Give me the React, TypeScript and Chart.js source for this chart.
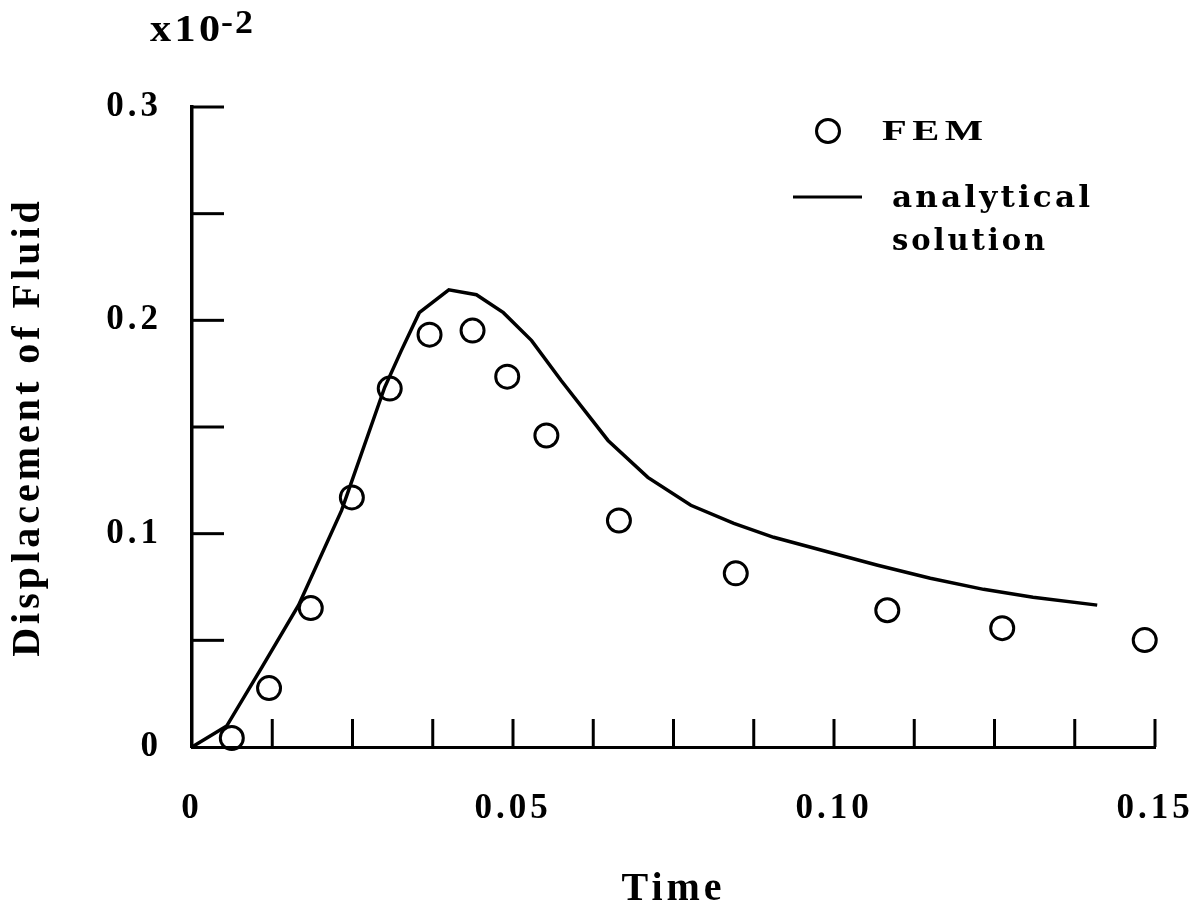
import React, { useEffect, useRef } from 'react';
import { Chart, registerables } from 'chart.js';

Chart.register(...registerables);

// FEM results (time, displacement x10^-2)
const femTime = [0.0062, 0.012, 0.0185, 0.0249, 0.0308, 0.037, 0.0437, 0.0491, 0.0552, 0.0665, 0.0847, 0.1083, 0.1262, 0.1484];
const femDisp = [0.0042, 0.0276, 0.0651, 0.117, 0.168, 0.1933, 0.1952, 0.1736, 0.146, 0.1062, 0.0814, 0.0641, 0.0557, 0.0501];

// analytical solution
const anaTime = [0, 0.0054, 0.0109, 0.0166, 0.0233, 0.03, 0.0326, 0.0354, 0.04, 0.0443, 0.0485, 0.0529, 0.0575, 0.0648, 0.071, 0.0777, 0.0844, 0.0906, 0.101, 0.1068, 0.115, 0.1233, 0.131, 0.141];
const anaDisp = [0, 0.0098, 0.0374, 0.0665, 0.1109, 0.1685, 0.1858, 0.2036, 0.2143, 0.212, 0.2036, 0.1905, 0.1718, 0.1437, 0.1264, 0.1133, 0.1048, 0.0983, 0.0899, 0.0852, 0.0791, 0.0739, 0.0702, 0.0665];

const xLabelValues = [0, 0.05, 0.1, 0.15];
const xTickLabels = ['0', '0.05', '0.10', '0.15'];
const yLabelValues = [0, 0.1, 0.2, 0.3];
const yTickLabels = ['0', '0.1', '0.2', '0.3'];
const xTitle = 'Time';
const yTitle = 'Displacement of Fluid';
const femLabel = 'FEM';
const anaLabel = ['analytical', 'solution'];
const unitNote = 'x10';
const unitExp = '-2';

function labelFor(v: number, values: number[], labels: string[]) {
  for (let i = 0; i < values.length; i++) {
    if (Math.abs(v - values[i]) < 1e-6) return labels[i];
  }
  return '';
}

function drawText(ctx: CanvasRenderingContext2D, text: string, x: number, y: number, font: string, spacing: number, width?: number) {
  ctx.save();
  ctx.font = font;
  ctx.fillStyle = '#000';
  ctx.textAlign = 'left';
  ctx.textBaseline = 'alphabetic';
  (ctx as any).letterSpacing = spacing + 'px';
  const w = ctx.measureText(text).width - spacing;
  const sx = width ? width / w : 1;
  ctx.translate(x, y);
  ctx.scale(sx, 1);
  ctx.fillText(text, 0, 0);
  ctx.restore();
}

const decorPlugin = {
  id: 'decor',
  beforeDraw(chart: any) {
    (chart.ctx as any).letterSpacing = '4px';
  },
  beforeDatasetsDraw(chart: any) {
    (chart.ctx as any).letterSpacing = '0px';
  },
  afterDraw(chart: any) {
    const ctx: CanvasRenderingContext2D = chart.ctx;
    const xs = chart.scales.x;
    const ys = chart.scales.y;
    const { left, bottom } = chart.chartArea;
    ctx.save();
    (ctx as any).letterSpacing = '0px';
    ctx.strokeStyle = '#000';
    ctx.lineWidth = 3;
    ctx.lineCap = 'butt';
    // inward tick marks
    xs.ticks.forEach((t: any) => {
      if (Math.abs(t.value) < 1e-9) return;
      const px = xs.getPixelForValue(t.value);
      ctx.beginPath();
      ctx.moveTo(px, bottom);
      ctx.lineTo(px, bottom - 28);
      ctx.stroke();
    });
    ys.ticks.forEach((t: any) => {
      if (Math.abs(t.value) < 1e-9) return;
      const py = ys.getPixelForValue(t.value);
      ctx.beginPath();
      ctx.moveTo(left, py);
      ctx.lineTo(left + 32, py);
      ctx.stroke();
    });
    // legend
    ctx.beginPath();
    ctx.arc(828, 131, 11.5, 0, Math.PI * 2);
    ctx.stroke();
    ctx.beginPath();
    ctx.moveTo(793, 197);
    ctx.lineTo(862, 197);
    ctx.stroke();
    ctx.restore();

    drawText(ctx, femLabel, 882, 140, 'bold 30px "Liberation Serif"', 4, 101);
    drawText(ctx, anaLabel[0], 892, 207, 'bold 30px "DejaVu Serif"', 3, 198);
    drawText(ctx, anaLabel[1], 892, 250, 'bold 30px "DejaVu Serif"', 3, 153);
    // unit note
    drawText(ctx, unitNote, 150, 41, 'bold 38px "Liberation Serif"', 3, 70);
    drawText(ctx, unitExp, 221, 33, 'bold 34px "Liberation Serif"', 2, 32);
  },
};

export default function App() {
  const ref = useRef<HTMLCanvasElement | null>(null);
  useEffect(() => {
    if (!ref.current) return;
    const tickFont = { family: 'Liberation Serif', size: 35, weight: 'bold' as const };
    const titleFont = { family: 'Liberation Serif', size: 40, weight: 'bold' as const };
    const chart = new Chart(ref.current, {
      type: 'scatter',
      data: {
        datasets: [
          {
            type: 'line',
            label: anaLabel.join(' '),
            data: anaTime.map((t, i) => ({ x: t, y: anaDisp[i] })),
            borderColor: '#000',
            borderWidth: 3.5,
            pointRadius: 0,
            tension: 0,
            fill: false,
            clip: false,
          } as any,
          {
            type: 'scatter',
            label: femLabel,
            data: femTime.map((t, i) => ({ x: t, y: femDisp[i] })),
            borderColor: '#000',
            backgroundColor: 'rgba(0,0,0,0)',
            pointRadius: 11.5,
            pointBorderWidth: 3,
            pointHoverRadius: 11.5,
            clip: false,
          } as any,
        ],
      },
      options: {
        responsive: false,
        animation: false,
        devicePixelRatio: 1,
        events: [],
        layout: { padding: { left: 0, right: 47, top: 107, bottom: 0 }, autoPadding: false },
        plugins: { legend: { display: false }, tooltip: { enabled: false }, title: { display: false } },
        scales: {
          x: {
            type: 'linear',
            min: 0,
            max: 0.15,
            grid: { display: false },
            border: { display: true, color: '#000', width: 3 },
            ticks: {
              stepSize: 0.0125,
              autoSkip: false,
              maxRotation: 0,
              minRotation: 0,
              padding: 33,
              color: '#000',
              font: tickFont,
              callback: (v: any) => labelFor(Number(v), xLabelValues, xTickLabels),
            },
            title: { display: true, text: xTitle, color: '#000', font: titleFont, padding: { top: 0, bottom: 0 } },
            afterFit: (s: any) => { s.height = 167; s.paddingLeft = 0; s.paddingRight = 0; },
          },
          y: {
            type: 'linear',
            min: 0,
            max: 0.3,
            grid: { display: false },
            border: { display: true, color: '#000', width: 3.5 },
            ticks: {
              stepSize: 0.05,
              autoSkip: false,
              padding: 22,
              color: '#000',
              font: tickFont,
              callback: (v: any) => labelFor(Number(v), yLabelValues, yTickLabels),
            },
            title: { display: true, text: yTitle, color: '#000', font: titleFont, padding: { top: 5, bottom: 0 } },
            afterFit: (s: any) => { s.width = 192; s.paddingTop = 0; s.paddingBottom = 0; },
          },
        },
      },
      plugins: [decorPlugin],
    });
    return () => chart.destroy();
  }, []);
  return (
    <div style={{ position: 'absolute', left: 0, top: 0, width: 1202, height: 914, background: '#fff' }}>
      <canvas ref={ref} width={1202} height={914} style={{ display: 'block' }} />
    </div>
  );
}
